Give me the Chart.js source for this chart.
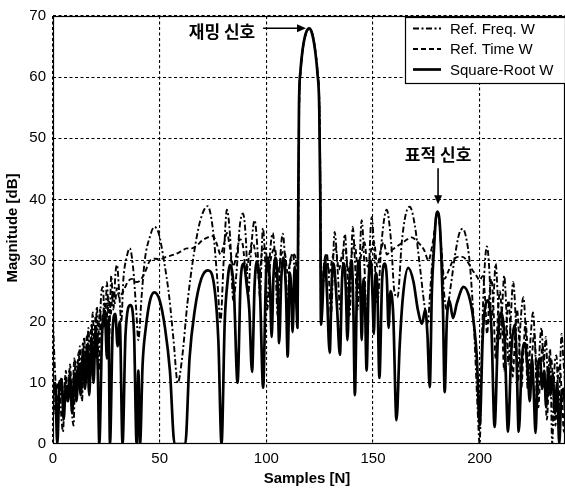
<!DOCTYPE html>
<html><head><meta charset="utf-8">
<script src="https://cdn.jsdelivr.net/npm/chart.js@4.4.0/dist/chart.umd.min.js"></script>
<style>html,body{margin:0;padding:0;background:#fff;}canvas{display:block;}</style>
</head><body>
<canvas id="c" width="565" height="489"></canvas>
<script>
const seriesLabels = ['Ref. Freq. W', 'Ref. Time W', 'Square-Root W'];
const xTicks = [0, 50, 100, 150, 200];
const yTicks = [0, 10, 20, 30, 40, 50, 60, 70];
const xTitle = 'Samples [N]';
const yTitle = 'Magnitude [dB]';
const jamLabel = '재밍 신호';
const targetLabel = '표적 신호';

// Ref. Freq. W (dash-dot)
const freqPts = [[0,19.8],[1,11.5],[2,6],[3,10.5],[3.8,5],[4.7,2],[5.7,11],[6.7,7],[7.7,12],[8.7,6],[9.6,3],[10.6,13.5],[11.6,9],[12.6,16],[13.6,7],[14.6,17.5],[15.6,10],[16.6,19],[17.6,11],[18.6,21.5],[19.6,14],[20.6,22.5],[21.5,12],[22.5,24],[23.4,25.7],[24.3,19],[25.3,26.5],[26.3,17],[27.3,27.5],[28.3,22],[29.3,28],[30,29.3],[31,25],[32,20],[33,27],[34.5,30.5],[36,32],[37.5,29],[39,22],[40,17],[41.5,24],[43,30],[45.5,34],[47.5,35.5],[49.5,34.5],[52,30],[54.5,24],[56.5,17],[58.5,10],[60.5,14],[63,23],[66,31],[69,36.5],[72.5,38.9],[75,35],[77,27],[78.5,20],[80,30],[81.5,38.3],[83,34],[84.5,23.5],[86,28],[87.5,35.5],[89,37.7],[90.5,33],[91.5,24],[92.5,30],[94.5,36.6],[96,31],[97,24],[98.4,35.3],[99.6,29],[100.5,22],[101.5,30],[103,34.5],[104.3,29],[105.3,21],[106.3,29],[107.7,34.4],[108.8,30],[109.7,22],[110.7,28],[112.4,31.2],[113.5,27],[114.3,22],[114.7,20],
[115,35],[115.4,55],[116.1,61],[117.1,64.5],[118.1,66.5],[119.1,67.6],[120.1,68],[121.1,67.6],[122.1,66.3],[123.1,64],[124.1,60.5],[124.9,55],[125.4,40],[125.7,20],
[126.5,25],[128.3,31.2],[129.5,26],[130.3,21],[132,34.7],[133.5,28],[134.6,22],[136.8,34.3],[138,28],[139,21],[140.5,35.5],[141.8,28],[142.8,22],[144.7,36.6],[146,29],[147,21],[149.4,37.1],[150.8,30],[152,23],[154,33],[156.4,38.3],[158.5,33],[160,25],[161.5,24],[163.5,33],[165.3,37.5],[167.2,38.8],[169.5,36],[172,29],[174,23],[175.6,19.8],[177,26],[178.5,33],[179.7,37.5],[180.3,38],[181,37],[182,32],[183,26],[184.5,22],[186.5,26],[188.5,31],[190.5,34.5],[192,35.2],[193.5,34],[195.5,29],[197.5,18],[199,6],[200,0],[201,16],[202.2,28],[203.4,32.3],[204.6,28],[205.5,20],[206.5,24],[207.5,29.5],[208.5,24],[209.5,17],[210.5,22],[211.5,27.5],[212.5,22],[213.5,13],[214.5,20],[215.7,26.5],[216.8,21],[217.8,10],[219,19],[220.5,24],[221.5,19],[222.5,9],[223.8,17],[225,21.5],[226,16],[227,6],[228,15],[229,19],[230,13],[231,17.5],[232,11],[233,15.5],[234,0],[235,12],[236,14.5],[237,6],[238.4,18],[239.2,14],[240,10]];

// Ref. Time W (dashed)
const timePts = [[0,9],[1,5],[2,10],[3,8],[4,11],[5,6],[6,12],[7,8],[8,13],[9,7],[10,14],[11,9],[12,15],[13,10],[14,16.5],[15,11],[16,18],[17,12],[18,19.5],[19,14],[20,21],[21,16],[22,22],[23,18],[24,23],[25,20],[26,24],[27,21],[28,25],[29,23],[30,25.5],[31,24],[33,25],[35,26.5],[37,27],[39,26.5],[41,26.8],[43,28],[45.5,30],[48,30.3],[50,30.2],[53,30.6],[57,31],[60,31.5],[62.7,32],[65,32],[67.5,32.5],[70,33.3],[72.6,33.8],[75,34],[77,32.5],[78.5,31],[80,32.5],[81.5,34.5],[83,32],[84.5,29],[86,31],[87.5,33.5],[89,32.5],[90.5,28],[92,31],[93.5,33],[95,31],[96.5,27],[98,31.5],[99.5,32],[101,28],[102.5,31],[104,32],[105.5,28],[107,31],[108.5,31.5],[110,28],[111.5,30.5],[113,31],[114.3,27],[114.7,20],
[114.95,35],[115.35,55],[116.05,61],[117.05,64.5],[118.05,66.5],[119.05,67.6],[120.05,68],[121.05,67.6],[122.05,66.3],[123.05,64],[124.05,60.5],[124.85,55],[125.35,40],[125.65,20],
[126.5,27],[128,31],[129.5,28],[131,30.5],[132.5,32],[134,28.5],[135.5,31],[137,32],[138.5,28],[140,31],[141.5,32.5],[143,28.5],[144.5,31],[146,33],[147.5,29],[149,31.5],[150.5,33],[152,29],[153.5,31.5],[155,33],[156.5,31],[158,31.5],[160,32],[162,32.5],[165,33.2],[168,33.8],[171,33],[174,31.7],[176,30],[177.5,32],[178.5,34],[179.5,37],[180.3,37.8],[181.2,36],[182.2,31],[183.5,27],[185,28],[187.5,30],[190,30.6],[192,30.6],[194,30],[196.5,28.5],[198.5,27.5],[200,26.8],[201.5,27.5],[202.5,24],[203.5,18],[204.5,24],[205.5,27],[206.5,22],[207.5,14],[208.5,21],[209.5,25],[210.5,20],[211.5,12],[212.5,19],[213.5,23.5],[214.5,18],[215.5,11],[216.5,17],[217.5,22],[218.5,17],[219.5,9],[220.5,15],[221.5,20],[222.5,15],[223.5,8],[224.5,14],[225.5,18],[226.5,13],[227.5,6],[228.5,12],[229.5,16],[230.5,11],[231.5,4],[232.5,11],[233.5,14],[234.5,9],[235.5,3],[236.5,10],[237.5,13],[238.5,8],[239.5,2],[240,8]];

// Square-Root W (solid)
const sqrtPts = [[0,8],[1,10],[2,0],[3,9],[4,10.5],[5,4],[6,9.5],[7,7],[8,11],[9,5],[10,11.5],[11,7],[12,13],[13,8],[14,15],[15,9],[16,16],[17,8],[18,17.5],[19,10],[20,19],[21,12],[21.7,0],[23,18],[24.3,21.5],[25.3,14],[26,20.5],[26.7,0],[28,19],[29.2,21.3],[30.3,16],[31.3,20],[32.6,0],[34,18],[36.3,22.7],[38,18],[39.2,0],[40,12],[40.8,0],[42,13],[43.5,19],[45.5,23.5],[47.5,24.8],[50,23.5],[52.5,19],[54.8,12],[57,0],[62,0],[64,14],[66.5,22],[69.5,27],[72.6,28.4],[75.5,26],[77.5,17],[79,0],[80.5,20],[81.8,26.5],[83,29.3],[84.8,25],[86.5,10],[88,27],[89.4,29.5],[90.8,26],[92,22],[93.3,11.8],[94.5,26],[95.6,29.8],[97,25],[98.5,9.2],[99.8,27],[100.8,30.5],[101.7,26],[102.5,17.5],[103.3,27],[104.3,30.5],[105.2,27],[106,16.5],[107,27],[108,30.5],[109.2,25],[110,14.3],[111,28],[111.7,25],[112.3,18.3],[113.3,29],[114.2,22],[114.6,19],
[114.9,35],[115.3,55],[116,61],[117,64.5],[118,66.5],[119,67.6],[120,68],[121,67.6],[122,66.3],[123,64],[124,60.5],[124.8,55],[125.3,40],[125.6,19.5],
[126.2,22],[126.9,28],[127.6,30],[128.4,25],[129.7,14.9],[130.7,27],[131.5,29.5],[132.5,26],[133.2,22],[134.5,14.6],[135.5,27],[136.5,29.5],[137.3,25],[138,17],[139,27],[140,30],[140.8,22],[141.5,8],[142.5,26],[143.5,30],[144.2,24],[144.7,17],[145.5,27],[146.2,24],[147,12],[148,27],[149,30],[149.8,24],[150.4,18],[151.2,28],[152,26],[153,10.8],[154.3,27],[155.5,29.5],[156.5,27],[157.3,19],[158.2,25],[159.5,21],[161,3.9],[162.5,16],[164,24],[166.5,28.8],[169,26.5],[171,22],[173,19.7],[174.5,22],[175.5,18],[176.6,9.3],[177.6,25],[178.6,32],[179.5,37],[180.3,38],[181.2,36.5],[182,31],[182.8,22],[183.6,8.5],[184.6,20],[185.8,23.5],[187.5,20.6],[189.3,23],[192.5,25.7],[195.5,23.5],[197.5,19],[198.7,14],[200,3],[201.5,18],[203.7,23.5],[205.5,19],[207,2.8],[208.5,17],[210,21.5],[211.7,17],[213.3,2],[214.8,15],[216.4,19.5],[217.3,14],[218.3,2],[219.8,14],[221.2,16.5],[222.5,12],[223.5,7],[224.5,14],[225.3,9],[226.2,1.8],[227.3,13],[228.3,14],[229.3,9],[230.2,12],[231.2,6],[232.2,12.5],[233.2,8],[234.2,11.5],[235.3,5],[236.3,10],[237.3,0],[238.3,8],[239.3,9],[240,6]];

const toXY = pts => pts.map(p => ({x: p[0], y: p[1]}));

Chart.defaults.font.family = "'Liberation Sans', Arial, sans-serif";
Chart.defaults.color = '#000';

const decor = {
  id: 'decor',
  afterDatasetsDraw(chart) {
    const {ctx, chartArea: a, scales: {x, y}} = chart;
    ctx.save();
    ctx.setLineDash([]);
    ctx.strokeStyle = '#000';
    ctx.fillStyle = '#000';
    ctx.lineWidth = 1.2;
    // frame
    ctx.strokeRect(a.left + 0.5, a.top + 0.5, a.right - a.left - 1, a.bottom - a.top - 1);

    // jamming annotation
    ctx.font = "bold 17px 'Noto Sans CJK KR', sans-serif";
    ctx.textAlign = 'center';
    ctx.textBaseline = 'middle';
    ctx.fillText(jamLabel, x.getPixelForValue(79.2), y.getPixelForValue(67.4));
    const ay = y.getPixelForValue(68);
    const ax0 = x.getPixelForValue(98.5), ax1 = x.getPixelForValue(118.6);
    ctx.lineWidth = 1.6;
    ctx.beginPath(); ctx.moveTo(ax0, ay); ctx.lineTo(ax1 - 6, ay); ctx.stroke();
    ctx.beginPath(); ctx.moveTo(ax1, ay); ctx.lineTo(ax1 - 9, ay - 4); ctx.lineTo(ax1 - 9, ay + 4); ctx.closePath(); ctx.fill();

    // target annotation
    ctx.fillText(targetLabel, x.getPixelForValue(180.5), y.getPixelForValue(47.4));
    const tx = x.getPixelForValue(180.5);
    const ty0 = y.getPixelForValue(45.1), ty1 = y.getPixelForValue(39.2);
    ctx.beginPath(); ctx.moveTo(tx, ty0); ctx.lineTo(tx, ty1 - 6); ctx.stroke();
    ctx.beginPath(); ctx.moveTo(tx, ty1); ctx.lineTo(tx - 4, ty1 - 9); ctx.lineTo(tx + 4, ty1 - 9); ctx.closePath(); ctx.fill();

    // legend
    const lw = 160, lh = 66;
    const lx = a.right - lw, ly = a.top + 1;
    ctx.fillStyle = '#fff';
    ctx.fillRect(lx, ly, lw, lh);
    ctx.lineWidth = 1.2;
    ctx.strokeStyle = '#000';
    ctx.strokeRect(lx + 0.5, ly + 0.5, lw, lh);
    ctx.font = "15px 'Liberation Sans', Arial, sans-serif";
    ctx.textAlign = 'left';
    ctx.fillStyle = '#000';
    const rows = [11.5, 32, 52.5];
    chart.data.datasets.forEach((ds, i) => {
      const ry = ly + rows[i];
      ctx.lineWidth = ds.borderWidth;
      ctx.setLineDash(ds.borderDash || []);
      ctx.beginPath(); ctx.moveTo(lx + 8, ry); ctx.lineTo(lx + 36, ry); ctx.stroke();
      ctx.setLineDash([]);
      ctx.fillText(ds.label, lx + 45, ry + 1);
    });

    // axis titles
    ctx.font = "bold 15px 'Liberation Sans', Arial, sans-serif";
    ctx.textAlign = 'center';
    ctx.fillText(xTitle, 307, 479);
    ctx.save();
    ctx.translate(13, 228);
    ctx.rotate(-Math.PI / 2);
    ctx.fillText(yTitle, 0, 0);
    ctx.restore();
    ctx.restore();
  }
};

new Chart(document.getElementById('c'), {
  type: 'line',
  data: {
    datasets: [
      {label: seriesLabels[0], data: toXY(freqPts), borderColor: '#000', borderWidth: 1.9, borderDash: [6, 2.5, 2, 2.5], order: 2},
      {label: seriesLabels[1], data: toXY(timePts), borderColor: '#000', borderWidth: 1.9, borderDash: [5, 3], order: 1},
      {label: seriesLabels[2], data: toXY(sqrtPts), borderColor: '#000', borderWidth: 2.7, order: 0}
    ]
  },
  options: {
    responsive: false,
    animation: false,
    devicePixelRatio: 1,
    layout: {padding: {top: 16, right: 0, left: 0, bottom: 0}},
    elements: {
      point: {radius: 0},
      line: {cubicInterpolationMode: 'monotone', borderJoinStyle: 'round', fill: false}
    },
    plugins: {legend: {display: false}, tooltip: {enabled: false}},
    scales: {
      x: {
        type: 'linear', min: 0, max: 240,
        afterBuildTicks: s => { s.ticks = xTicks.map(v => ({value: v})); },
        afterFit: s => { s.height = 45; },
        ticks: {font: {size: 15}, color: '#000', padding: 6, maxRotation: 0},
        grid: {color: '#000', lineWidth: 1.1, drawTicks: false},
        border: {display: false, dash: [3, 2.5]}
      },
      y: {
        type: 'linear', min: 0, max: 70,
        afterBuildTicks: s => { s.ticks = yTicks.map(v => ({value: v})); },
        afterFit: s => { s.width = 53; },
        ticks: {font: {size: 15}, color: '#000', padding: 7},
        grid: {color: '#000', lineWidth: 1.1, drawTicks: false},
        border: {display: false, dash: [3, 2.5]}
      }
    }
  },
  plugins: [decor]
});
</script>
</body></html>
